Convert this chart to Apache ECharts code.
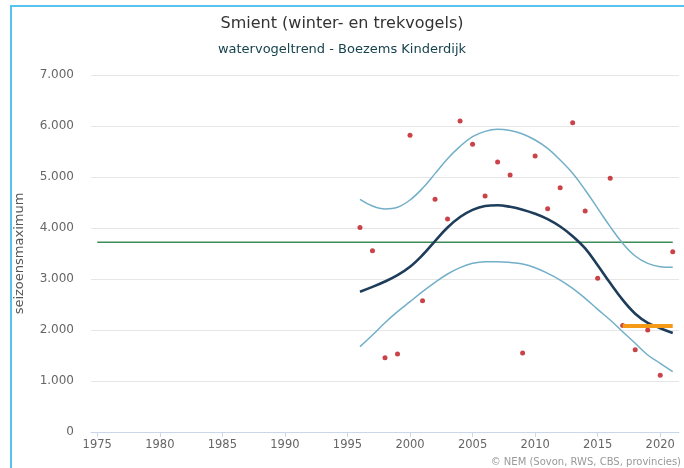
<!DOCTYPE html>
<html>
<head>
<meta charset="utf-8">
<script src="https://cdn.jsdelivr.net/npm/echarts@6/dist/echarts.min.js"></script>
<style>
  html, body { margin: 0; padding: 0; background: #fff; }
  #chart { width: 684px; height: 468px; }
</style>
</head>
<body>
<div id="chart"></div>
<script>
// jaren en seizoensmaxima (telpunten)
const years = [1996, 1997, 1998, 1999, 2000, 2001, 2002, 2003, 2004, 2005, 2006, 2007, 2008,
  2009, 2010, 2011, 2012, 2013, 2014, 2015, 2016, 2017, 2018, 2019, 2020, 2021]
const counts = [4010, 3555, 1457, 1529, 5818, 2575, 4562, 4176, 6098, 5640, 4627, 5294, 5039,
  1549, 5412, 4379, 4791, 6065, 4333, 3013, 4974, 2090, 1614, 2000, 1111, 3535]

// trendlijn met betrouwbaarheidsband
const trend = [2751, 2845, 2950, 3075, 3240, 3470, 3745, 4010, 4215, 4355, 4430, 4445, 4415,
  4360, 4280, 4175, 4030, 3840, 3600, 3270, 2920, 2590, 2320, 2140, 2035, 1940]
const upper = [4562, 4431, 4373, 4406, 4549, 4778, 5066, 5360, 5600, 5790, 5895, 5935, 5910,
  5843, 5725, 5562, 5333, 5072, 4745, 4386, 4026, 3699, 3451, 3307, 3242, 3229]
const lower = [1673, 1902, 2143, 2359, 2555, 2751, 2935, 3098, 3222, 3307, 3340, 3340, 3325,
  3294, 3222, 3111, 2980, 2817, 2621, 2405, 2196, 1967, 1739, 1510, 1346, 1183]

// referentieniveau en recent gemiddelde
const refYears = [1975, 2021]
const refLevel = 3720
const recentYears = [2017, 2021]
const recentLevel = 2080

const xTicks = [1975, 1980, 1985, 1990, 1995, 2000, 2005, 2010, 2015, 2020]

const pairs = (xs, ys) => xs.map((x, i) => [x, ys[i]])
const fmt = v => v === 0 ? '0' : String(v).replace(/\B(?=(\d{3})+(?!\d))/g, '.')

const chart = echarts.init(document.getElementById('chart'), null, { renderer: 'canvas' })

const fontFamily = 'DejaVu Sans'

const option = {
  animation: false,
  textStyle: { fontFamily },
  title: [
    {
      text: 'Smient (winter- en trekvogels)',
      left: 'center',
      top: 11,
      textStyle: { fontSize: 16, fontWeight: 'normal', color: '#333333', fontFamily }
    },
    {
      text: 'watervogeltrend - Boezems Kinderdijk',
      left: 'center',
      top: 38,
      textStyle: { fontSize: 13, fontWeight: 'normal', color: '#17434f', fontFamily }
    }
  ],
  graphic: [
    { type: 'rect', shape: { x: 10, y: 5, width: 2, height: 463 }, style: { fill: '#55c2f0' }, silent: true },
    { type: 'rect', shape: { x: 10, y: 5, width: 674, height: 2 }, style: { fill: '#55c2f0' }, silent: true },
    {
      type: 'text',
      right: 3,
      bottom: 1,
      style: { text: '© NEM (Sovon, RWS, CBS, provincies)', fill: '#999999', fontSize: 10, fontFamily }
    }
  ],
  grid: { left: 91, right: 5, top: 75, bottom: 36 },
  xAxis: {
    type: 'value',
    min: 1974.5,
    max: 2021.5,
    axisLine: { show: true, lineStyle: { color: '#ccd6eb' } },
    axisTick: { show: true, customValues: xTicks, length: 5, lineStyle: { color: '#ccd6eb' } },
    axisLabel: { customValues: xTicks, color: '#666666', fontSize: 11.5, margin: 7, formatter: v => String(v) },
    splitLine: { show: false }
  },
  yAxis: {
    type: 'value',
    min: 0,
    max: 7000,
    interval: 1000,
    name: 'seizoensmaximum',
    nameLocation: 'middle',
    nameGap: 65,
    nameTextStyle: { color: '#555555', fontSize: 13, fontFamily },
    axisLine: { show: false },
    axisTick: { show: false },
    axisLabel: { color: '#666666', fontSize: 12, margin: 17, formatter: v => fmt(v) },
    splitLine: { lineStyle: { color: '#e6e6e6' } }
  },
  series: [
    {
      type: 'line',
      data: pairs(refYears, [refLevel, refLevel]),
      symbol: 'none',
      lineStyle: { color: '#3d8c5a', width: 1.5 },
      z: 1
    },
    {
      type: 'line',
      data: pairs(years, upper),
      smooth: 0.4,
      symbol: 'none',
      lineStyle: { color: '#72afc8', width: 1.5 },
      z: 2
    },
    {
      type: 'line',
      data: pairs(years, lower),
      smooth: 0.4,
      symbol: 'none',
      lineStyle: { color: '#72afc8', width: 1.5 },
      z: 2
    },
    {
      type: 'line',
      data: pairs(years, trend),
      smooth: 0.4,
      symbol: 'none',
      lineStyle: { color: '#1e3d5a', width: 2.6 },
      z: 3
    },
    {
      type: 'scatter',
      data: pairs(years, counts),
      symbolSize: 5,
      itemStyle: { color: '#bb141c' },
      z: 4
    },
    {
      type: 'line',
      data: pairs(recentYears, [recentLevel, recentLevel]),
      symbol: 'none',
      lineStyle: { color: '#f49a16', width: 4 },
      z: 5
    }
  ]
}

chart.setOption(option)
window.addEventListener('resize', () => chart.resize())
</script>
</body>
</html>
